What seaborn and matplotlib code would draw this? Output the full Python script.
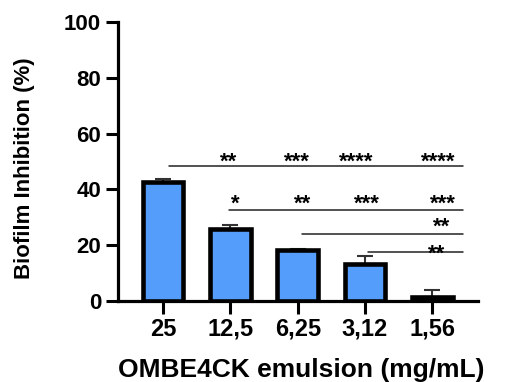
import numpy as np
import seaborn as sns
import matplotlib.pyplot as plt

sns.set_style("ticks")
plt.rcParams['font.family'] = ['Liberation Sans', 'DejaVu Sans']
plt.rcParams['font.weight'] = 'bold'
plt.rcParams['text.color'] = 'black'
plt.rcParams['axes.labelcolor'] = 'black'
plt.rcParams['xtick.color'] = 'black'
plt.rcParams['ytick.color'] = 'black'

# concentraciones (mg/mL) y % de inhibición
concentrations = ["25", "12,5", "6,25", "3,12", "1,56"]
inhibition = [42.6, 26.0, 18.3, 13.4, 1.5]
inhibition_sd = [1.0, 1.1, 0.4, 2.7, 2.6]

# comparaciones: inicio de la línea, altura, estrellas y su posición
comp_start = [0.09, 0.98, 2.07, 3.04]
comp_end = [4.45, 4.45, 4.45, 4.45]
comp_height = [48.4, 32.6, 24.0, 17.6]
comp_labels = [["**", "***", "****", "****"],
               ["*", "**", "***", "***"],
               ["**"],
               ["**"]]
comp_label_x = [[0.97, 1.99, 2.87, 4.09],
                [1.07, 2.07, 3.03, 4.15],
                [4.13],
                [4.07]]
comp_label_y = [52.5, 37.5, 29.0, 19.5]

fig = plt.figure(figsize=(5.06, 3.82), dpi=100)
ax = fig.add_axes([0.233, 0.212, 0.712, 0.730])

sns.barplot(x=concentrations, y=inhibition, color="#559dfa", saturation=1,
            edgecolor="black", linewidth=3.3, width=0.6, ax=ax, zorder=3)

x = np.arange(len(concentrations))
ax.errorbar(x, inhibition, yerr=[np.zeros(len(x)), inhibition_sd], fmt='none',
            ecolor="#333333", elinewidth=1.5, capsize=6, capthick=1.5, zorder=2)

for i in range(len(comp_start)):
    ax.plot([comp_start[i], comp_end[i]], [comp_height[i], comp_height[i]],
            color="#222222", lw=1.1, zorder=4)
    for lab, lx in zip(comp_labels[i], comp_label_x[i]):
        ax.text(lx, comp_label_y[i] - 4.6, lab, ha="center", va="baseline",
                fontsize=16, fontweight="bold", color="black", zorder=5)

ax.set_ylim(0, 100)
ax.set_xlim(-0.67, 4.68)
ax.set_yticks([0, 20, 40, 60, 80, 100])
sns.despine(ax=ax)
for s in ["left", "bottom"]:
    ax.spines[s].set_linewidth(2.3)
    ax.spines[s].set_color("black")
ax.tick_params(axis="both", length=9, width=2.2, color="black", labelcolor="black", pad=3)
ax.tick_params(axis="y", labelsize=16)
ax.tick_params(axis="x", labelsize=17, pad=3)
for lab in ax.get_xticklabels() + ax.get_yticklabels():
    lab.set_fontweight("bold")

ax.set_ylabel("Biofilm Inhibition (%)", fontsize=16, fontweight="bold", color="black")
ax.set_xlabel("OMBE4CK emulsion (mg/mL)", fontsize=19, fontweight="bold", color="black")
ax.yaxis.set_label_coords(-0.258, 0.478)
ax.xaxis.set_label_coords(0.508, -0.247)
ax.xaxis.label.set_va("center")
ax.yaxis.label.set_va("center")

fig.savefig("out.png", dpi=100)
